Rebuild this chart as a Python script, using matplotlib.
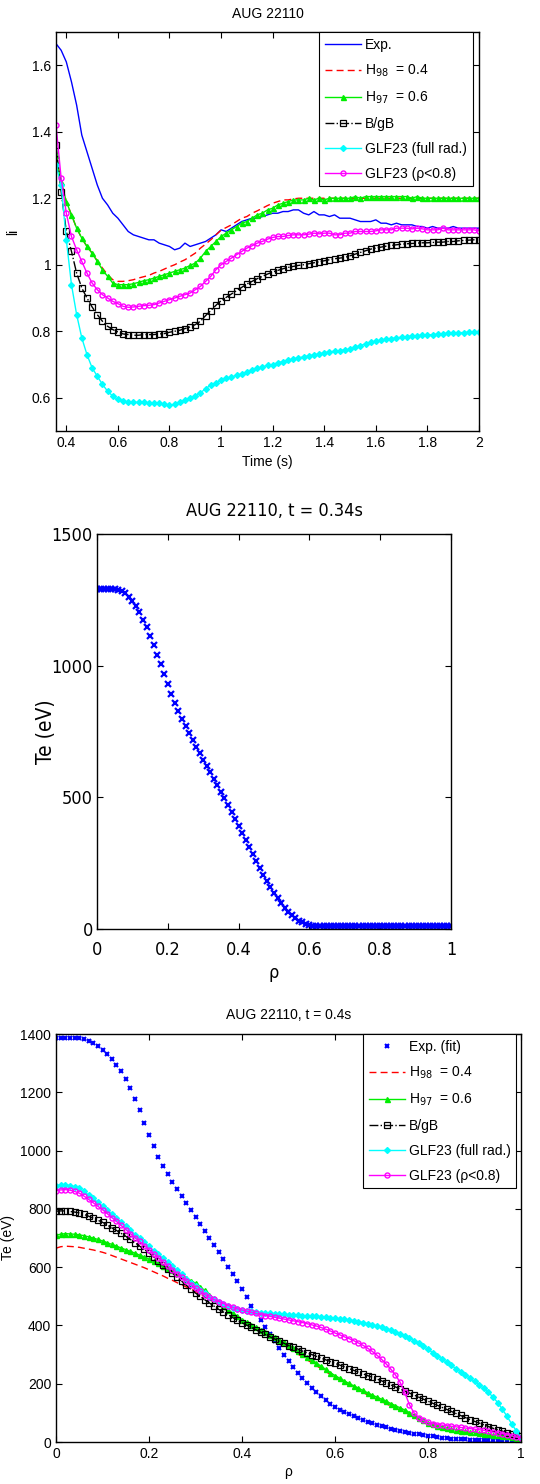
import numpy as np
import matplotlib
matplotlib.use("Agg")
import matplotlib.pyplot as plt
from matplotlib.ticker import FuncFormatter, FixedLocator
from matplotlib.font_manager import FontProperties

plt.rcParams['font.family'] = ['Liberation Sans', 'DejaVu Sans']

# ---------------- Panel 1 data: li vs time ----------------
time_s = np.round(np.arange(0.36, 2.001, 0.02), 2)

li_exp = [1.665, 1.645, 1.61, 1.55, 1.48, 1.39, 1.34, 1.29, 1.24, 1.20,
          1.18, 1.155, 1.14, 1.12, 1.10, 1.09, 1.085, 1.08, 1.075, 1.075,
          1.065, 1.06, 1.055, 1.045, 1.05, 1.065, 1.055, 1.06, 1.065, 1.07,
          1.08, 1.09, 1.105, 1.10, 1.11, 1.12, 1.13, 1.135, 1.14, 1.14,
          1.145, 1.15, 1.155, 1.155, 1.16, 1.16, 1.165, 1.165, 1.155, 1.15,
          1.16, 1.15, 1.15, 1.145, 1.15, 1.14, 1.14, 1.14, 1.135, 1.13,
          1.13, 1.13, 1.135, 1.125, 1.125, 1.12, 1.125, 1.12, 1.12, 1.12,
          1.115, 1.115, 1.11, 1.115, 1.11, 1.11, 1.11, 1.115, 1.11, 1.11,
          1.11, 1.11, 1.11]

li_h98 = [1.33, 1.25, 1.19, 1.15, 1.11, 1.08, 1.055, 1.035, 1.012, 0.99,
          0.97, 0.955, 0.95, 0.95, 0.952, 0.955, 0.96, 0.964, 0.968, 0.975,
          0.98, 0.987, 0.994, 1.0, 1.008, 1.015, 1.025, 1.035, 1.05, 1.062,
          1.075, 1.09, 1.104, 1.112, 1.12, 1.13, 1.14, 1.145, 1.155, 1.162,
          1.17, 1.178, 1.185, 1.19, 1.195, 1.195, 1.198, 1.2, 1.2, 1.2,
          1.2, 1.2, 1.2, 1.2, 1.2, 1.2, 1.2, 1.2, 1.2, 1.2,
          1.2, 1.2, 1.2, 1.2, 1.2, 1.2, 1.2, 1.2, 1.2, 1.2,
          1.2, 1.2, 1.2, 1.2, 1.2, 1.2, 1.2, 1.2, 1.2, 1.2,
          1.2, 1.2, 1.2]

li_h97 = [1.33, 1.25, 1.19, 1.15, 1.11, 1.08, 1.055, 1.035, 1.01, 0.985,
          0.965, 0.945, 0.94, 0.94, 0.94, 0.943, 0.947, 0.952, 0.955, 0.96,
          0.965, 0.97, 0.975, 0.98, 0.985, 0.99, 0.998, 1.005, 1.02, 1.04,
          1.055, 1.07, 1.085, 1.095, 1.105, 1.115, 1.125, 1.13, 1.14, 1.15,
          1.155, 1.165, 1.17, 1.18, 1.185, 1.19, 1.195, 1.195, 1.195, 1.20,
          1.195, 1.20, 1.195, 1.20, 1.20, 1.20, 1.20, 1.20, 1.205, 1.20,
          1.205, 1.205, 1.205, 1.205, 1.205, 1.205, 1.205, 1.205, 1.205, 1.20,
          1.205, 1.20, 1.20, 1.20, 1.20, 1.20, 1.20, 1.20, 1.20, 1.20,
          1.20, 1.20, 1.20]

li_bgb = [1.36, 1.22, 1.10, 1.04, 0.975, 0.93, 0.9, 0.873, 0.85, 0.83,
          0.815, 0.805, 0.798, 0.792, 0.79, 0.788, 0.788, 0.79, 0.79, 0.79,
          0.792, 0.793, 0.797, 0.8, 0.803, 0.808, 0.813, 0.82, 0.83, 0.847,
          0.862, 0.878, 0.892, 0.902, 0.912, 0.922, 0.932, 0.942, 0.95, 0.958,
          0.965, 0.972, 0.978, 0.983, 0.988, 0.992, 0.995, 0.998, 1.0, 1.003,
          1.006, 1.009, 1.012, 1.015, 1.018, 1.02, 1.022, 1.027, 1.032, 1.037,
          1.042, 1.047, 1.05, 1.053, 1.056, 1.058, 1.06, 1.062, 1.063, 1.064,
          1.065, 1.066, 1.066, 1.067, 1.068, 1.068, 1.07, 1.07, 1.072, 1.073,
          1.074, 1.075, 1.075]

li_glf_full = [1.3, 1.24, 1.075, 0.94, 0.85, 0.78, 0.73, 0.69, 0.665, 0.64,
               0.62, 0.605, 0.595, 0.59, 0.587, 0.586, 0.586, 0.586, 0.585, 0.585,
               0.584, 0.58, 0.578, 0.58, 0.587, 0.593, 0.6, 0.605, 0.615, 0.627,
               0.638, 0.645, 0.652, 0.658, 0.663, 0.667, 0.672, 0.677, 0.683, 0.688,
               0.693, 0.697, 0.7, 0.705, 0.709, 0.713, 0.717, 0.72, 0.723, 0.726,
               0.729, 0.732, 0.735, 0.738, 0.74, 0.742, 0.744, 0.746, 0.752, 0.757,
               0.762, 0.767, 0.77, 0.773, 0.776, 0.778, 0.78, 0.782, 0.784, 0.786,
               0.787, 0.788, 0.789, 0.79, 0.791, 0.793, 0.794, 0.795, 0.796, 0.796,
               0.797, 0.797, 0.797]

li_glf_08 = [1.42, 1.26, 1.155, 1.085, 1.045, 1.01, 0.975, 0.945, 0.925, 0.91,
             0.9, 0.89, 0.883, 0.875, 0.872, 0.873, 0.875, 0.877, 0.878, 0.88,
             0.885, 0.89, 0.895, 0.9, 0.905, 0.91, 0.915, 0.925, 0.935, 0.95,
             0.965, 0.985, 1.0, 1.01, 1.02, 1.03, 1.04, 1.05, 1.057, 1.065,
             1.07, 1.077, 1.082, 1.085, 1.085, 1.088, 1.09, 1.09, 1.09, 1.092,
             1.095, 1.093, 1.095, 1.095, 1.09, 1.09, 1.095, 1.095, 1.1, 1.1,
             1.1, 1.1, 1.102, 1.105, 1.105, 1.105, 1.11, 1.11, 1.11, 1.108,
             1.11, 1.108, 1.105, 1.105, 1.105, 1.11, 1.105, 1.105, 1.105, 1.105,
             1.105, 1.105, 1.102]

# ---------------- Panel 2 data: Te profile t=0.34 s ----------------
rho = np.round(np.linspace(0.0, 1.0, 101), 2)

te_034 = [1290, 1290, 1290, 1290, 1290, 1290, 1288, 1283, 1275, 1262,
          1245, 1225, 1202, 1175, 1145, 1113, 1078, 1042, 1005, 968,
          930, 893, 860, 828, 798, 770, 743, 717, 692, 667,
          643, 619, 595, 571, 547, 522, 497, 471, 445, 418,
          392, 365, 338, 311, 284, 257, 231, 206, 182, 159,
          137, 116, 97, 80, 65, 52, 41, 32, 25, 19,
          15, 12, 10, 10, 10, 10, 10, 10, 10, 10,
          10, 10, 10, 10, 10, 10, 10, 10, 10, 10,
          10, 10, 10, 10, 10, 10, 10, 10, 10, 10,
          10, 10, 10, 10, 10, 10, 10, 10, 10, 10,
          10]

# ---------------- Panel 3 data: Te profiles t=0.4 s ----------------
te04_exp = [1385, 1385, 1385, 1386, 1386, 1385, 1382, 1376, 1368, 1358,
            1346, 1332, 1315, 1295, 1272, 1246, 1214, 1178, 1138, 1096,
            1054, 1015, 978, 946, 918, 893, 868, 844, 820, 796,
            772, 748, 724, 700, 676, 652, 627, 602, 577, 551,
            524, 496, 468, 442, 418, 395, 370, 345, 322, 300,
            278, 257, 238, 220, 203, 187, 172, 158, 145, 132,
            121, 111, 103, 96, 89, 82, 76, 70, 64, 59,
            54, 50, 46, 42, 38, 35, 32, 29, 26, 24,
            21, 19, 17, 15, 13, 12, 11, 10, 9, 8,
            8, 7, 7, 6, 6, 5, 5, 5, 4, 4,
            4]

te04_h98 = [665, 670, 672, 671, 670, 668, 665, 662, 659, 655,
            651, 646, 640, 634, 628, 622, 616, 610, 604, 598,
            591, 584, 577, 570, 562, 555, 547, 540, 532, 525,
            517, 508, 499, 490, 480, 470, 460, 449, 439, 428,
            418, 408, 399, 390, 381, 372, 362, 352, 342, 332,
            322, 312, 302, 292, 282, 272, 262, 252, 242, 232,
            222, 213, 204, 195, 186, 178, 170, 162, 154, 146,
            139, 131, 124, 116, 109, 102, 94, 85, 76, 68,
            60, 56, 52, 47, 43, 40, 38, 35, 33, 30,
            28, 26, 24, 22, 20, 18, 16, 15, 13, 12,
            10]

te04_h97 = [710, 713, 715, 714, 713, 711, 708, 704, 700, 695,
            690, 684, 678, 672, 666, 660, 654, 648, 641, 635,
            628, 620, 613, 605, 597, 589, 580, 572, 563, 554,
            545, 532, 520, 505, 492, 478, 466, 454, 442, 431,
            420, 411, 402, 393, 385, 377, 368, 359, 351, 342,
            333, 323, 313, 303, 292, 282, 271, 260, 249, 238,
            228, 219, 210, 201, 193, 185, 177, 169, 161, 154,
            147, 140, 132, 125, 117, 110, 101, 92, 83, 74,
            66, 61, 56, 51, 47, 44, 41, 39, 37, 35,
            33, 31, 29, 27, 25, 23, 21, 19, 17, 15,
            13]

te04_bgb = [792, 793, 793, 791, 789, 786, 781, 775, 768, 761,
            754, 745, 735, 726, 716, 706, 695, 684, 672, 661,
            649, 635, 621, 607, 594, 580, 566, 552, 538, 525,
            511, 500, 488, 477, 466, 455, 446, 437, 427, 418,
            409, 401, 393, 385, 377, 369, 361, 354, 346, 339,
            331, 325, 319, 312, 306, 300, 294, 288, 282, 276,
            270, 264, 258, 252, 246, 240, 234, 228, 222, 216,
            210, 203, 196, 189, 182, 175, 168, 161, 154, 147,
            140, 133, 126, 119, 112, 105, 98, 91, 84, 77,
            71, 65, 59, 53, 47, 42, 37, 32, 27, 23,
            19]

te04_glf_full = [880, 882, 882, 880, 876, 871, 860, 848, 836, 822,
                 809, 796, 782, 768, 754, 740, 726, 712, 699, 685,
                 671, 657, 644, 630, 617, 603, 589, 575, 561, 547,
                 534, 522, 510, 499, 490, 482, 474, 467, 461, 457,
                 453, 450, 448, 446, 444, 443, 442, 440, 439, 438,
                 437, 436, 435, 434, 433, 432, 431, 430, 428, 427,
                 425, 423, 421, 419, 416, 413, 410, 406, 402, 398,
                 394, 389, 384, 378, 372, 365, 357, 348, 338, 328,
                 318, 307, 296, 285, 274, 263, 252, 241, 230, 219,
                 208, 196, 184, 170, 154, 135, 112, 88, 62, 38,
                 15]

te04_glf_08 = [862, 865, 866, 864, 860, 854, 844, 833, 821, 809,
               797, 784, 770, 757, 743, 729, 715, 701, 688, 674,
               660, 646, 632, 618, 605, 591, 578, 565, 553, 540,
               528, 517, 506, 496, 489, 482, 475, 468, 462, 457,
               453, 449, 445, 441, 437, 434, 431, 428, 425, 422,
               419, 416, 413, 410, 406, 402, 398, 393, 387, 381,
               374, 368, 361, 355, 348, 340, 332, 322, 311, 298,
               284, 268, 250, 230, 205, 170, 128, 100, 84, 74,
               67, 63, 60, 58, 56, 54, 52, 50, 48, 46,
               44, 42, 40, 37, 34, 31, 28, 25, 21, 17,
               14]

labels1 = ['Exp.', r'H$_{98}$  = 0.4', r'H$_{97}$  = 0.6', 'B/gB',
           'GLF23 (full rad.)', 'GLF23 (\u03c1<0.8)']
labels3 = ['Exp. (fit)'] + labels1[1:]

# ---------------- Figure ----------------
W, H = 540, 1484
fig = plt.figure(figsize=(W / 100, H / 100), dpi=100)


def px_axes(left, top, right, bottom):
    return fig.add_axes([left / W, 1 - bottom / H, (right - left) / W, (bottom - top) / H])


fmt = FuncFormatter(lambda v, p: '%g' % v)


def style_axes(ax, fs, pad=3.5):
    ax.tick_params(direction='in', top=True, right=True, length=4, width=0.8,
                   labelsize=fs, pad=pad)
    for s in ax.spines.values():
        s.set_linewidth(1.0)
    ax.xaxis.set_major_formatter(fmt)
    ax.yaxis.set_major_formatter(fmt)


line_kw = dict(lw=1.0)
styles = [
    dict(color='red', ls=(0, (5, 3))),
    dict(color='#00ee00', marker='^', ms=3.6),
    dict(color='black', ls='-.', marker='s', ms=3.8, mfc='none', mew=0.9),
    dict(color='cyan', marker='D', ms=3.0),
    dict(color='magenta', marker='o', ms=3.6, mfc='none', mew=1.0),
]

# Panel 1
ax1 = px_axes(56, 32, 479, 431)
ax1.plot(time_s, li_exp, color='blue', lw=1.0, label=labels1[0])
for ser, st, lab in zip([li_h98, li_h97, li_bgb, li_glf_full, li_glf_08], styles, labels1[1:]):
    ax1.plot(time_s, ser, label=lab, **line_kw, **st)
ax1.set_xlim(0.36, 2.0)
ax1.set_ylim(0.5, 1.7)
ax1.xaxis.set_major_locator(FixedLocator([0.4, 0.6, 0.8, 1.0, 1.2, 1.4, 1.6, 1.8, 2.0]))
ax1.yaxis.set_major_locator(FixedLocator([0.6, 0.8, 1.0, 1.2, 1.4, 1.6]))
style_axes(ax1, 10)
ax1.set_title('AUG 22110', fontsize=10, pad=10)
ax1.set_xlabel('Time (s)', fontsize=10, labelpad=4)
ax1.set_ylabel('li', fontsize=10)
ax1.yaxis.set_label_coords(-0.085, 0.5)
leg1 = ax1.legend(loc='upper right', bbox_to_anchor=(0.985, 1.0), fontsize=10,
                  frameon=True, fancybox=False, edgecolor='black', framealpha=1,
                  handlelength=2.6, handletextpad=0.3, borderpad=0.4, labelspacing=0.78,
                  borderaxespad=0.0)
leg1.get_frame().set_linewidth(0.8)

# Panel 2 (condensed font)
cond = FontProperties(family='DejaVu Sans', stretch='condensed', size=13)
cond_lab = FontProperties(family='DejaVu Sans', stretch='condensed', size=15)
ax2 = px_axes(97, 534, 451, 929)
ax2.plot(rho, te_034, ls='none', marker='x', ms=4, mew=1.6, color='blue')
ax2.set_xlim(0, 1)
ax2.set_ylim(0, 1500)
ax2.xaxis.set_major_locator(FixedLocator([0, 0.2, 0.4, 0.6, 0.8, 1.0]))
ax2.yaxis.set_major_locator(FixedLocator([0, 500, 1000, 1500]))
style_axes(ax2, 13, pad=3)
ax2.tick_params(axis='x', pad=9)
for lab in ax2.get_xticklabels() + ax2.get_yticklabels():
    lab.set_fontproperties(cond)
ax2.set_title('AUG 22110, t = 0.34s', fontproperties=cond, pad=13)
ax2.set_xlabel('\u03c1', fontproperties=cond, labelpad=3)
ax2.set_ylabel('Te (eV)', fontproperties=cond_lab)
ax2.yaxis.set_label_coords(-0.115, 0.5)

# Panel 3
ax3 = px_axes(56, 1034, 521, 1442)
ax3.plot(rho, te04_exp, ls='none', marker='x', ms=3.5, mew=1.5, color='blue', label=labels3[0])
for ser, st, lab in zip([te04_h98, te04_h97, te04_bgb, te04_glf_full, te04_glf_08],
                        styles, labels3[1:]):
    ax3.plot(rho, ser, label=lab, **line_kw, **st)
ax3.set_xlim(0, 1)
ax3.set_ylim(0, 1400)
ax3.xaxis.set_major_locator(FixedLocator([0, 0.2, 0.4, 0.6, 0.8, 1.0]))
ax3.yaxis.set_major_locator(FixedLocator([0, 200, 400, 600, 800, 1000, 1200, 1400]))
style_axes(ax3, 10)
ax3.set_title('AUG 22110, t = 0.4s', fontsize=10, pad=11)
ax3.set_xlabel('\u03c1', fontsize=10, labelpad=3)
ax3.set_ylabel('Te (eV)', fontsize=10)
ax3.yaxis.set_label_coords(-0.088, 0.5)
leg3 = ax3.legend(loc='upper right', bbox_to_anchor=(0.99, 1.0), fontsize=10,
                  frameon=True, fancybox=False, edgecolor='black', framealpha=1,
                  handlelength=2.6, handletextpad=0.3, borderpad=0.4, labelspacing=0.78,
                  borderaxespad=0.0)
leg3.get_frame().set_linewidth(0.8)

fig.savefig('out.png', dpi=100)
